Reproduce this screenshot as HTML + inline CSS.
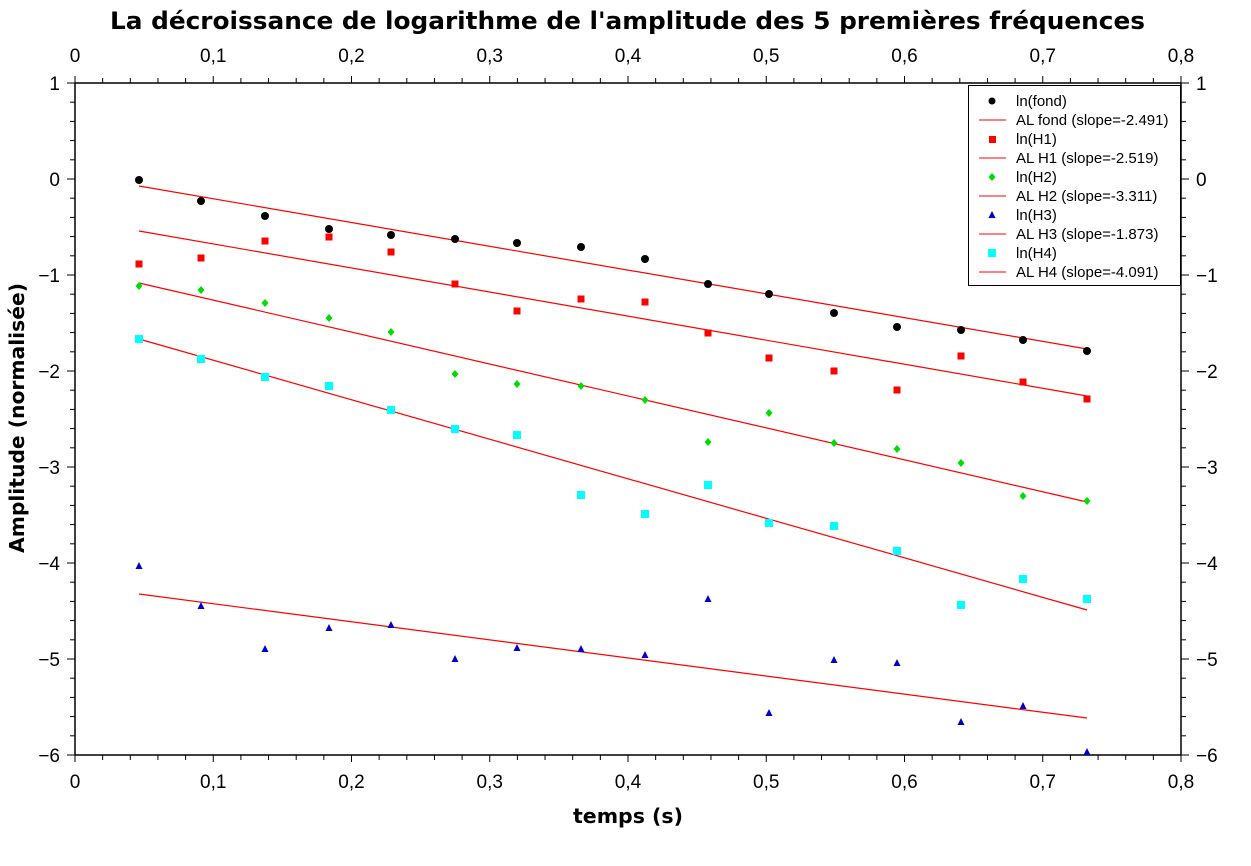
<!DOCTYPE html>
<html><head><meta charset="utf-8"><style>body{margin:0;background:#fff}</style></head><body>
<svg width="1251" height="861" xmlns="http://www.w3.org/2000/svg" font-family="Liberation Sans, sans-serif">
<rect width="1251" height="861" fill="#fff"/>
<text x="110" y="29" font-size="24" font-weight="bold" font-family="DejaVu Sans, sans-serif" textLength="1035" lengthAdjust="spacingAndGlyphs">La décroissance de logarithme de l'amplitude des 5 premières fréquences</text>
<g id="ax" stroke="#000" stroke-width="1.5" fill="none">
<line x1="75" y1="83" x2="1181" y2="83"/><line x1="75" y1="755" x2="1181" y2="755"/>
<line x1="75" y1="83" x2="75" y2="755"/><line x1="1181" y1="83" x2="1181" y2="755"/>
</g>
<g id="ticks" stroke="#000" stroke-width="1"></g>
<g id="lbl" font-size="19" fill="#000"></g>
<text x="573" y="823" font-size="20" font-weight="bold" font-family="DejaVu Sans, sans-serif" textLength="110" lengthAdjust="spacingAndGlyphs">temps (s)</text>
<text transform="translate(24,553) rotate(-90)" font-size="20" font-weight="bold" font-family="DejaVu Sans, sans-serif" textLength="270" lengthAdjust="spacingAndGlyphs">Amplitude (normalisée)</text>
<g stroke="#f00" stroke-width="1.2">
<line x1="139" y1="186" x2="1087" y2="349"/>
<line x1="139" y1="231" x2="1087" y2="396"/>
<line x1="139" y1="283" x2="1087" y2="502"/>
<line x1="139" y1="594" x2="1087" y2="718"/>
<line x1="139" y1="339" x2="1087" y2="610"/>
</g>
<g id="pts"></g>
<rect x="968.5" y="85.5" width="212" height="200" fill="#fff" stroke="#000" stroke-width="1"/>
<g font-size="15" fill="#000">
<circle cx="992" cy="101" r="3.5" fill="#000"/><text x="1016" y="106">ln(fond)</text>
<line x1="979" x2="1006" y1="120" y2="120" stroke="#f00"/><text x="1016" y="125">AL fond (slope=-2.491)</text>
<rect x="989" y="136" width="7" height="7" fill="#f00"/><text x="1016" y="144">ln(H1)</text>
<line x1="979" x2="1006" y1="158" y2="158" stroke="#f00"/><text x="1016" y="163">AL H1 (slope=-2.519)</text>
<path d="M992 173 L995.5 177 L992 181 L988.5 177Z" fill="#0d0"/><text x="1016" y="182">ln(H2)</text>
<line x1="979" x2="1006" y1="196" y2="196" stroke="#f00"/><text x="1016" y="201">AL H2 (slope=-3.311)</text>
<path d="M992 211 L995.5 218 L988.5 218Z" fill="#00c"/><text x="1016" y="220">ln(H3)</text>
<line x1="979" x2="1006" y1="234" y2="234" stroke="#f00"/><text x="1016" y="239">AL H3 (slope=-1.873)</text>
<rect x="988" y="249" width="8" height="8" fill="#0ff"/><text x="1016" y="258">ln(H4)</text>
<line x1="979" x2="1006" y1="272" y2="272" stroke="#f00"/><text x="1016" y="277">AL H4 (slope=-4.091)</text>
</g>
<script>
const NS="http://www.w3.org/2000/svg";
function el(p,t,a,txt){const e=document.createElementNS(NS,t);for(const k in a)e.setAttribute(k,a[k]);if(txt!==undefined)e.textContent=txt;document.getElementById(p).appendChild(e);}
for(let i=0;i<=40;i++){const x=75+i*1106/40;const L=i%5==0?7:5;
el('ticks','line',{x1:x,x2:x,y1:755,y2:755+L});el('ticks','line',{x1:x,x2:x,y1:83,y2:83-L});
if(i%5==0){const s=(i/50).toFixed(1).replace('.',',');const t=i==0?'0':s;
el('lbl','text',{x:x,y:788,'text-anchor':'middle'},t);el('lbl','text',{x:x,y:62,'text-anchor':'middle'},t);}}
for(let i=0;i<=35;i++){const y=83+i*96/5;const L=i%5==0?8:5;
el('ticks','line',{x1:75-L,x2:75,y1:y,y2:y});el('ticks','line',{x1:1181,x2:1181+L,y1:y,y2:y});
if(i%5==0){const v=1-i/5;const t=v<0?'\u2212'+(-v):''+v;
el('lbl','text',{x:60,y:y+7,'text-anchor':'end'},t);el('lbl','text',{x:1196,y:y+7},t);}}
const X=[139,201,265,329,391,455,517,581,645,708,769,834,897,961,1023,1087];
const F=[180,201,216,229,235,239,243,247,259,284,294,313,327,330,340,351];
const H1=[264,258,241,237,252,284,311,299,302,333,358,371,390,356,382,399];
const H2=[286,290,303,318,332,374,384,386,400,442,413,443,449,463,496,501];
const H3=[566,606,649,628,625,659,648,649,655,599,713,660,663,722,706,752];
const H4=[339,359,377,386,410,429,435,495,514,485,523,526,551,605,579,599];
X.forEach((x,i)=>{
el('pts','rect',{x:x-4,y:H4[i]-4,width:8,height:8,fill:'#0ff'});
el('pts','path',{d:`M${x} ${H3[i]-4}L${x+3.5} ${H3[i]+3}L${x-3.5} ${H3[i]+3}Z`,fill:'#00c'});
el('pts','path',{d:`M${x} ${H2[i]-4}L${x+3.5} ${H2[i]}L${x} ${H2[i]+4}L${x-3.5} ${H2[i]}Z`,fill:'#0d0'});
el('pts','rect',{x:x-3.5,y:H1[i]-3.5,width:7,height:7,fill:'#f00'});
el('pts','circle',{cx:x,cy:F[i],r:4,fill:'#000'});
});
</script>
</svg>
</body></html>
